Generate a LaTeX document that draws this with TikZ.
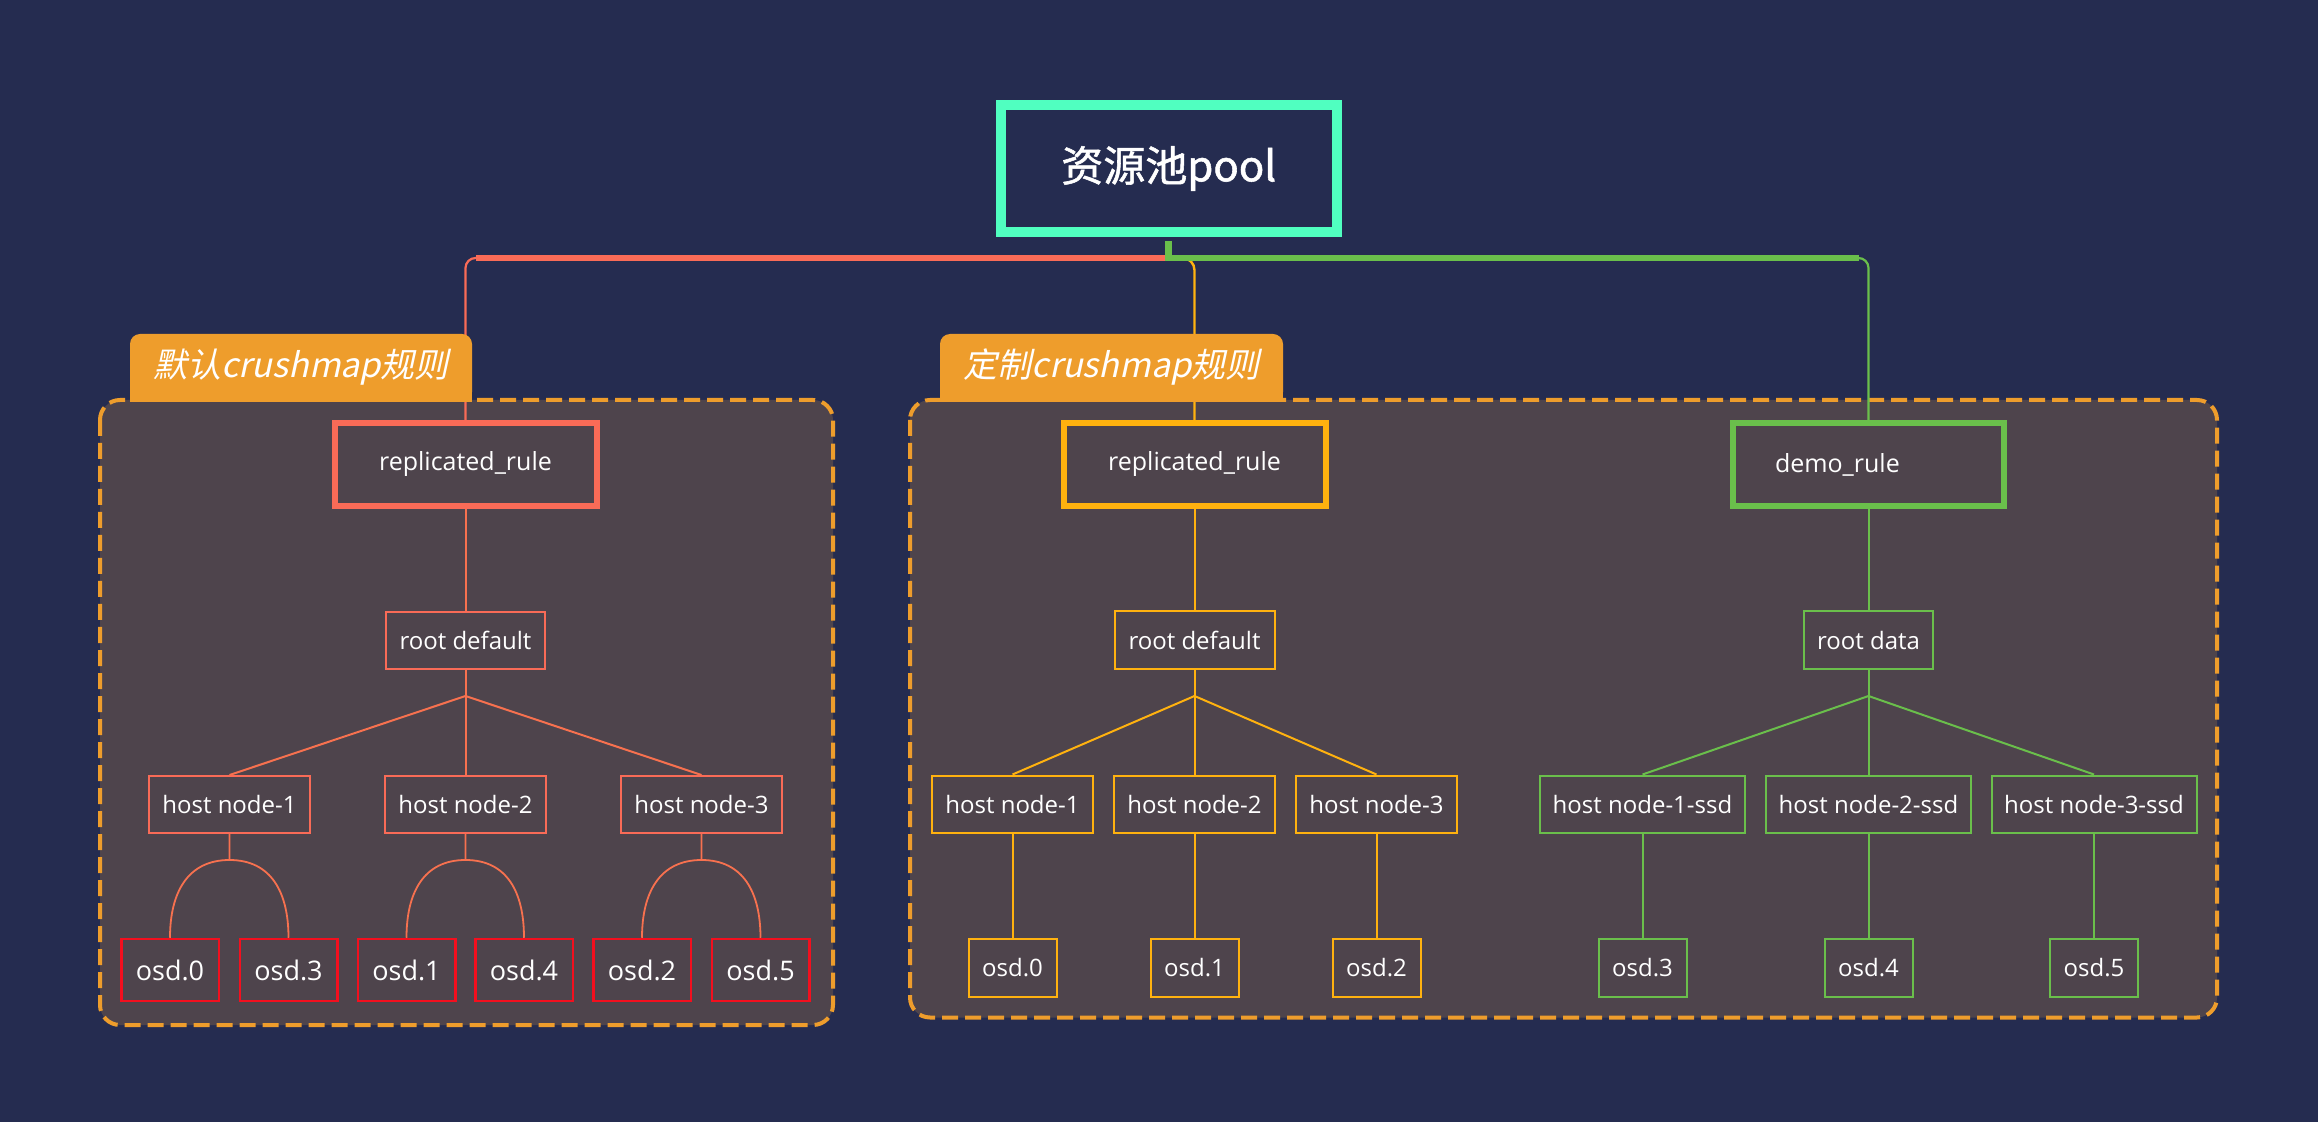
\documentclass[tikz,border=0pt]{standalone}
\usepackage{fontspec}
\setmainfont{Open Sans}
\newfontfamily\cjk[FakeBold=1.3]{Noto Sans CJK SC}
\newfontfamily\cjkit[FakeSlant=0.22]{Noto Sans CJK SC}
\usetikzlibrary{calc}
\definecolor{bgc}{HTML}{252C50}
\definecolor{boxfill}{HTML}{4E444C}
\definecolor{orangec}{HTML}{EE9D2C}
\definecolor{mintc}{HTML}{50FFC0}
\definecolor{coralc}{HTML}{F96B57}
\definecolor{linec}{HTML}{F7714F}
\definecolor{osdred}{HTML}{F30F1E}
\definecolor{yellowc}{HTML}{FFB20F}
\definecolor{greenc}{HTML}{6ABF4B}
\begin{document}
\begin{tikzpicture}[x=0.5pt,y=-0.5pt,
  txt/.style={text=white, inner sep=0pt},
  rulebox/.style={txt, draw, line width=3pt, minimum width=131pt, minimum height=41.5pt, font=\fontsize{12.5}{15}\selectfont},
  thinbox/.style={txt, draw, line width=1pt, minimum height=28.5pt, font=\fontsize{12}{14}\selectfont},
  osdL/.style={txt, draw=osdred, line width=1.25pt, minimum width=48.75pt, minimum height=31pt, font=\fontsize{13.5}{16}\selectfont},
  osdR/.style={txt, draw, line width=1pt, minimum width=44pt, minimum height=29pt, font=\fontsize{12}{14}\selectfont},
  group/.style={draw=orangec, line width=2pt, dash pattern=on 8pt off 3.5pt, fill=boxfill, rounded corners=10pt},
  tabtext/.style={txt, font=\cjkit\fontsize{17}{20}\selectfont},
  thinline/.style={line width=1pt}
]
\useasboundingbox (0,0) rectangle (2318,1122);
\fill[bgc] (0,0) rectangle (2318,1122);

% group boxes
\draw[group] (100,400) rectangle (833,1025);
\draw[group] (910,400) rectangle (2217,1017.5);

% connector stem (under the top node)
\coordinate (hy) at (0,258);

% top node
\node[txt, draw=mintc, line width=5pt, minimum width=168.25pt, minimum height=63.5pt,
      font=\cjk\fontsize{21}{24}\selectfont] (pool) at (1168.75,168.5) {资源池pool};

% rule nodes
\node[rulebox, draw=coralc] (r1) at (465.5,464.5) {replicated\_rule};
\node[rulebox, draw=yellowc] (y1) at (1194.5,464.5) {replicated\_rule};
\node[rulebox, draw=greenc, text width=93.5pt, align=left, inner xsep=21pt, minimum width=0pt] (g1) at (1868.5,464.5) {demo\_rule};

% roots
\node[thinbox, draw=coralc, minimum width=79.5pt] (rt1) at (465.5,640.5) {root default};
\node[thinbox, draw=yellowc, minimum width=80pt] (rt2) at (1194.5,640) {root default};
\node[thinbox, draw=greenc, minimum width=64.75pt] (rt3) at (1868.5,640) {root data};

% hosts left
\node[thinbox, draw=coralc, minimum width=80.5pt] (h1) at (229.5,804.5) {host node-1};
\node[thinbox, draw=coralc, minimum width=80.5pt] (h2) at (465.5,804.5) {host node-2};
\node[thinbox, draw=coralc, minimum width=80.5pt] (h3) at (701.5,804.5) {host node-3};
% hosts yellow
\node[thinbox, draw=yellowc, minimum width=80.5pt] (yh1) at (1012.5,804) {host node-1};
\node[thinbox, draw=yellowc, minimum width=80.5pt] (yh2) at (1194.5,804) {host node-2};
\node[thinbox, draw=yellowc, minimum width=80.5pt] (yh3) at (1376.5,804) {host node-3};
% hosts green
\node[thinbox, draw=greenc, minimum width=102.5pt] (gh1) at (1642.5,804) {host node-1-ssd};
\node[thinbox, draw=greenc, minimum width=102.5pt] (gh2) at (1868.5,804) {host node-2-ssd};
\node[thinbox, draw=greenc, minimum width=102.5pt] (gh3) at (2094,804) {host node-3-ssd};

% osds left
\node[osdL] (lo0) at (170,970) {osd.0};
\node[osdL] (lo3) at (288.5,970) {osd.3};
\node[osdL] (lo1) at (406.5,970) {osd.1};
\node[osdL] (lo4) at (524,970) {osd.4};
\node[osdL] (lo2) at (642,970) {osd.2};
\node[osdL] (lo5) at (760.5,970) {osd.5};
% osds yellow
\node[osdR, draw=yellowc] (yo0) at (1012.5,968) {osd.0};
\node[osdR, draw=yellowc] (yo1) at (1194.5,968) {osd.1};
\node[osdR, draw=yellowc] (yo2) at (1376.5,968) {osd.2};
% osds green
\node[osdR, draw=greenc] (go3) at (1642.5,968) {osd.3};
\node[osdR, draw=greenc] (go4) at (1868.5,968) {osd.4};
\node[osdR, draw=greenc] (go5) at (2094,968) {osd.5};

% connectors from pool
\coordinate (hub) at (pool.south |- hy);
\draw[yellowc, line width=1.2pt, rounded corners=6pt] (hub) -| (y1.north);
\draw[coralc, line width=1.1pt, rounded corners=5pt] (hub) -| (r1.north);
\draw[coralc, line width=3pt] (hub) -- ([xshift=5pt]hub -| r1.north);
\draw[greenc, line width=1.1pt, rounded corners=5pt] (hub) -| (g1.north);
\draw[greenc, line width=3pt] (hub) -- ([xshift=-5pt]hub -| g1.north);
\draw[greenc, line width=3.3pt] ([yshift=-2pt]pool.south) -- ([yshift=-1.5pt]hub);

% tabs
\fill[orangec, rounded corners=5pt] (130,334) rectangle (472,402);
\fill[orangec] (130,370) rectangle (472,402);
\node[tabtext] (tab1) at (301,367) {默认crushmap规则};
\fill[orangec, rounded corners=5pt] (940,334) rectangle (1283,402);
\fill[orangec] (940,370) rectangle (1283,402);
\node[tabtext] (tab2) at (1111.5,367) {定制crushmap规则};

% left tree
\coordinate (by) at (0,696);
\draw[linec, thinline] (r1.south) -- (rt1.north);
\draw[linec, thinline] (rt1.south) -- (h2.north);
\coordinate (b1) at (rt1.south |- by);
\draw[linec, thinline] (b1) -- (h1.north);
\draw[linec, thinline] (b1) -- (h3.north);
\foreach \h/\a/\b in {h1/lo0/lo3, h2/lo1/lo4, h3/lo2/lo5} {
  \draw[linec, line width=0.9pt] (\h.south) -- ++(0,26) coordinate (top\h)
     .. controls +(-42,0) and +(0,-45) .. (\a.north);
  \draw[linec, line width=0.9pt] (top\h) .. controls +(42,0) and +(0,-45) .. (\b.north);
}

% yellow tree
\draw[yellowc, thinline] (y1.south) -- (rt2.north);
\draw[yellowc, thinline] (rt2.south) -- (yh2.north);
\coordinate (b2) at (rt2.south |- by);
\draw[yellowc, thinline] (b2) -- (yh1.north);
\draw[yellowc, thinline] (b2) -- (yh3.north);
\draw[yellowc, thinline] (yh1.south) -- (yo0.north);
\draw[yellowc, thinline] (yh2.south) -- (yo1.north);
\draw[yellowc, thinline] (yh3.south) -- (yo2.north);

% green tree
\draw[greenc, thinline] (g1.south) -- (rt3.north);
\draw[greenc, thinline] (rt3.south) -- (gh2.north);
\coordinate (b3) at (rt3.south |- by);
\draw[greenc, thinline] (b3) -- (gh1.north);
\draw[greenc, thinline] (b3) -- (gh3.north);
\draw[greenc, thinline] (gh1.south) -- (go3.north);
\draw[greenc, thinline] (gh2.south) -- (go4.north);
\draw[greenc, thinline] (gh3.south) -- (go5.north);
\end{tikzpicture}
\end{document}
